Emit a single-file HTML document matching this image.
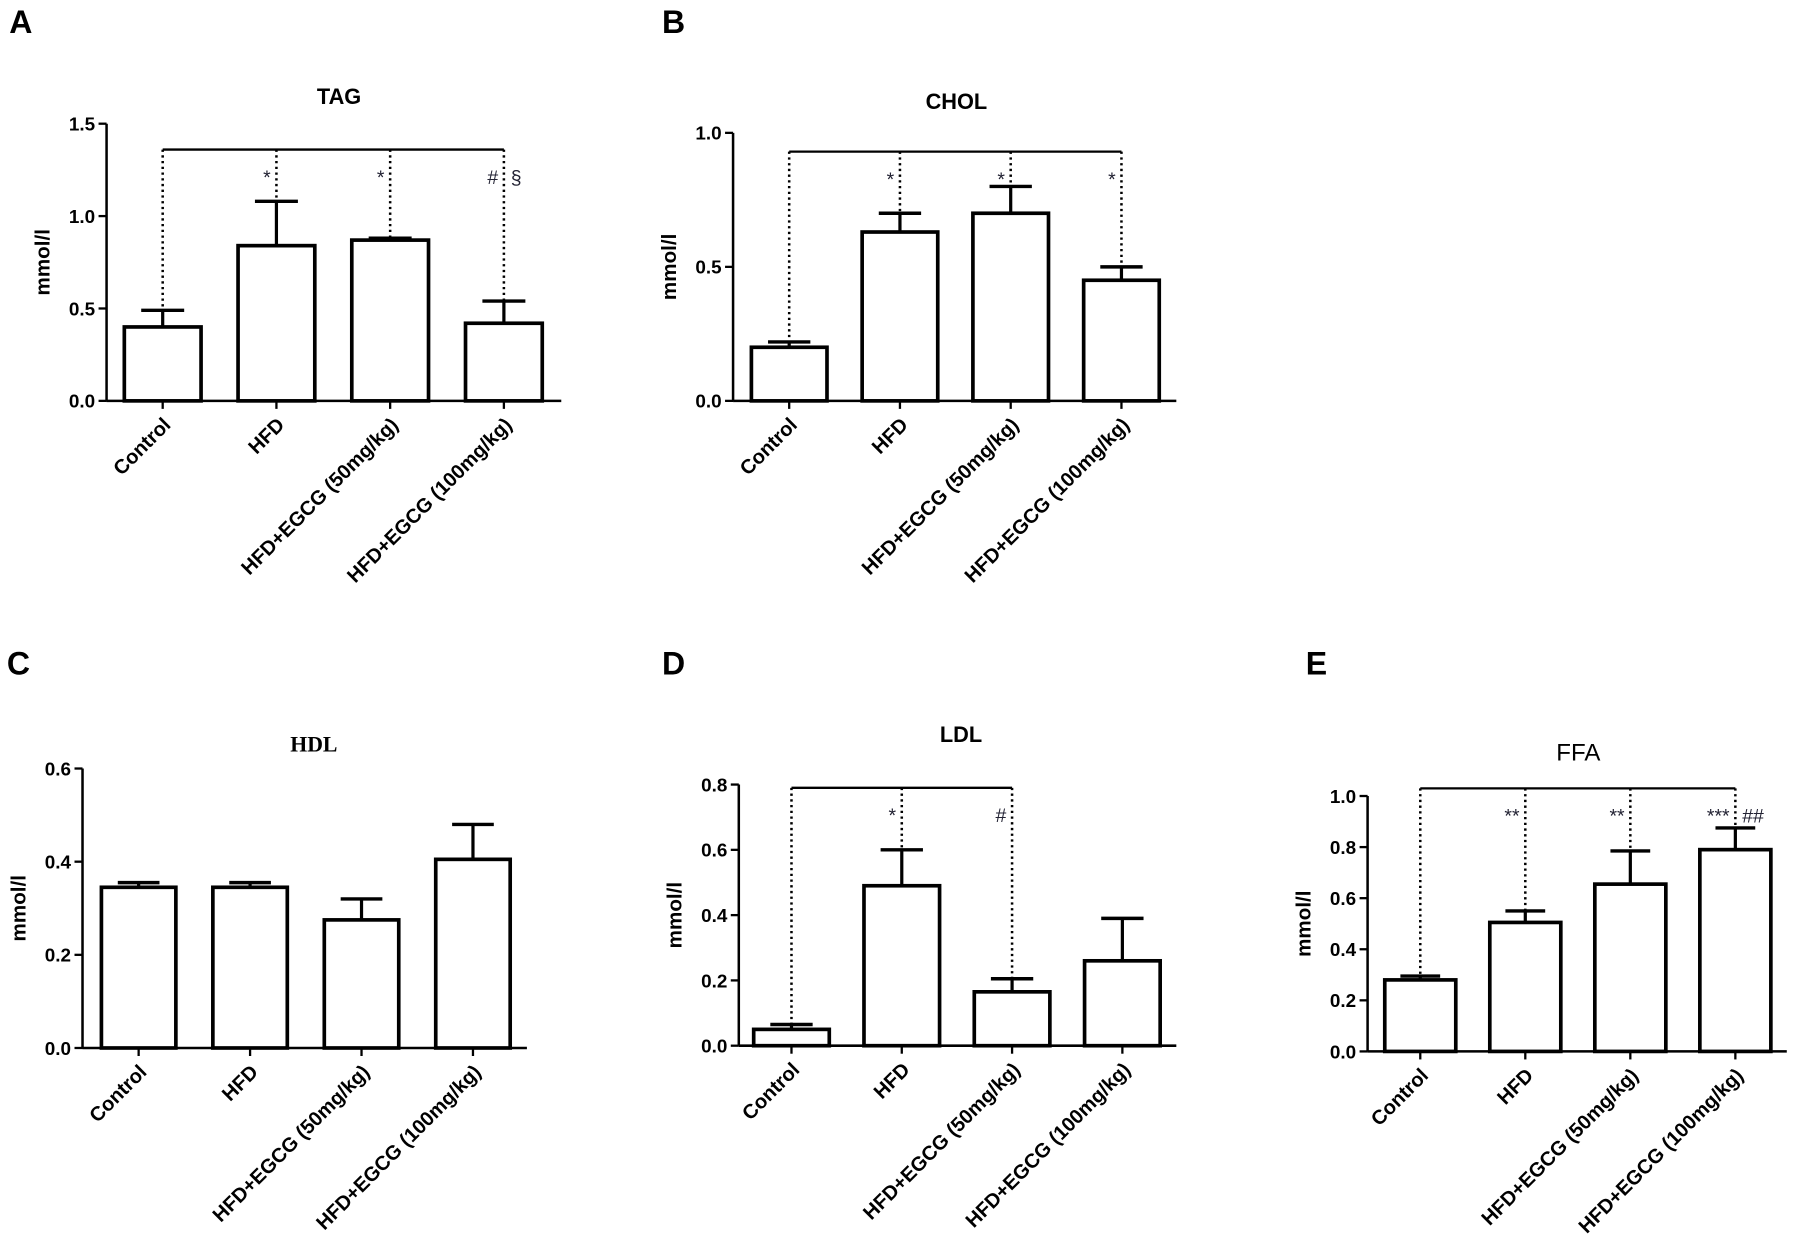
<!DOCTYPE html>
<html><head><meta charset="utf-8"><style>
html,body{margin:0;padding:0;background:#fff;}
svg{display:block;font-family:"Liberation Sans",Arial,sans-serif;}
</style></head><body>
<svg id="fig" width="1796" height="1253" viewBox="0 0 1568 1094" xmlns="http://www.w3.org/2000/svg">
<rect width="1568" height="1094" fill="#fff"/>
<text x="8" y="29" font-size="28" font-weight="bold">A</text>
<text x="578" y="29" font-size="28" font-weight="bold">B</text>
<text x="6" y="589" font-size="28" font-weight="bold">C</text>
<text x="578" y="589" font-size="28" font-weight="bold">D</text>
<text x="1140" y="589" font-size="28" font-weight="bold">E</text>
</svg>
<script>
const categories = ["Control","HFD","HFD+EGCG (50mg/kg)","HFD+EGCG (100mg/kg)"];
const tagValues = [0.40,0.84,0.87,0.42];
const tagErrors = [0.09,0.24,0.01,0.12];
const tagTicks = ["0.0","0.5","1.0","1.5"];
const cholValues = [0.20,0.63,0.70,0.45];
const cholErrors = [0.02,0.07,0.10,0.05];
const cholTicks = ["0.0","0.5","1.0"];
const hdlValues = [0.345,0.345,0.275,0.405];
const hdlErrors = [0.01,0.01,0.045,0.075];
const hdlTicks = ["0.0","0.2","0.4","0.6"];
const ldlValues = [0.05,0.49,0.165,0.26];
const ldlErrors = [0.015,0.11,0.04,0.13];
const ldlTicks = ["0.0","0.2","0.4","0.6","0.8"];
const ffaValues = [0.28,0.505,0.655,0.79];
const ffaErrors = [0.015,0.045,0.13,0.085];
const ffaTicks = ["0.0","0.2","0.4","0.6","0.8","1.0"];
const tagMarks = ["","*","*","# §"];
const cholMarks = ["","*","*","*"];
const ldlMarks = ["","*","#"];
const ffaMarks = ["","**","**","*** ##"];

const NS="http://www.w3.org/2000/svg";
const svg=document.getElementById('fig');
function mk(tag,attrs,parent){const e=document.createElementNS(NS,tag);for(const k in attrs)e.setAttribute(k,attrs[k]);(parent||svg).appendChild(e);return e;}

function panel(cfg){
  const g=mk('g',{});
  
  
  const ticks=cfg.ticks.map(Number);
  const ymax=ticks[ticks.length-1];
  const y=v=>cfg.y0-(v/ymax)*(cfg.y0-cfg.yTop);
  const x=i=>cfg.x0+cfg.first+i*cfg.step;
  const t=mk('text',{x:cfg.titleX,y:cfg.titleY,'font-size':cfg.titleSize||19,'font-weight':cfg.titleWeight||'bold','text-anchor':'middle','font-family':cfg.titleFont||'"Liberation Sans",Arial,sans-serif'},g);
  t.textContent=cfg.title;
  
  
  const ax=mk('line',{x1:cfg.x0,y1:cfg.yTop,x2:cfg.x0,y2:cfg.y0,stroke:'#000','stroke-width':2.2},g);
  
  
  const xa=mk('line',{x1:cfg.x0,y1:cfg.y0,x2:cfg.xEnd,y2:cfg.y0,stroke:'#000','stroke-width':2.2},g);
  
  
  cfg.ticks.forEach((lab,i)=>{
    const yy=y(ticks[i]);
    mk('line',{x1:cfg.x0-7,y1:yy,x2:cfg.x0,y2:yy,stroke:'#000','stroke-width':2},g);
    const tl=mk('text',{x:cfg.x0-10,y:yy+6,'font-size':16.5,'font-weight':'bold','text-anchor':'end'},g);
    tl.textContent=lab;
    
    
  });
  const yl=mk('text',{x:0,y:0,'font-size':18,'font-weight':'bold','text-anchor':'middle',transform:`translate(${cfg.x0-50},${(cfg.y0+cfg.yTop)/2}) rotate(-90)`},g);
  yl.textContent='mmol/l';
  
  
  categories.forEach((c,i)=>{
    const cx=x(i),v=cfg.values[i],e=cfg.errors[i];
    mk('line',{x1:cx,y1:y(v),x2:cx,y2:y(v+e),stroke:'#000','stroke-width':2.8},g);
    mk('line',{x1:cx-cfg.bw*0.28,y1:y(v+e),x2:cx+cfg.bw*0.28,y2:y(v+e),stroke:'#000','stroke-width':3},g);
    const b=mk('rect',{x:cx-cfg.bw/2,y:y(v),width:cfg.bw,height:cfg.y0-y(v),fill:'#fff',stroke:'#000','stroke-width':3.2},g);
    
    
    mk('line',{x1:cx,y1:cfg.y0,x2:cx,y2:cfg.y0+7,stroke:'#000','stroke-width':2},g);
    const xl=mk('text',{x:0,y:0,'font-size':17.5,'font-weight':'bold','text-anchor':'end',transform:`translate(${cx+8},${cfg.y0+22}) rotate(-45)`},g);
    xl.textContent=c;
    
    
  });
  if(cfg.marks){
    const n=cfg.marks.length;
    const by=y(cfg.bracket);
    const br=mk('line',{x1:x(0),y1:by,x2:x(n-1),y2:by,stroke:'#000','stroke-width':2},g);
    
    
    cfg.marks.forEach((m,i)=>{
      const cx=x(i);
      mk('line',{x1:cx,y1:by,x2:cx,y2:y(cfg.values[i]+cfg.errors[i]),stroke:'#000','stroke-width':2.2,'stroke-dasharray':'2,3'},g);
      if(m){
        const parts=m.split(' ');
        const s=mk('text',{x:cx-5,y:by+30,'font-size':17,'text-anchor':'end',fill:'#223'},g);
        s.textContent=parts[0];
        
        
        if(parts[1]){
          const s2=mk('text',{x:cx+6,y:by+30,'font-size':17,'text-anchor':'start',fill:'#223'},g);
          s2.textContent=parts[1];
          
          
        }
      }
    });
  }
}
panel({name:'tag',title:'TAG',titleX:296,titleY:91,x0:93,y0:350,yTop:108,xEnd:490,first:49,step:99.3,bw:67,values:tagValues,errors:tagErrors,ticks:tagTicks,marks:tagMarks,bracket:1.36});
panel({name:'chol',title:'CHOL',titleX:835,titleY:95,x0:640,y0:350,yTop:116,xEnd:1027,first:49,step:96.7,bw:66,values:cholValues,errors:cholErrors,ticks:cholTicks,marks:cholMarks,bracket:0.93});
panel({name:'hdl',title:'HDL',titleX:274,titleY:656,titleFont:'"Liberation Serif",serif',x0:72,y0:915,yTop:671,xEnd:460,first:49,step:97.3,bw:65,values:hdlValues,errors:hdlErrors,ticks:hdlTicks});
panel({name:'ldl',title:'LDL',titleX:839,titleY:648,x0:645,y0:913,yTop:685,xEnd:1027,first:46,step:96.3,bw:66,values:ldlValues,errors:ldlErrors,ticks:ldlTicks,marks:ldlMarks,bracket:0.79});
panel({name:'ffa',title:'FFA',titleX:1378,titleY:664,titleWeight:'normal',titleSize:21,x0:1194,y0:918,yTop:695,xEnd:1560,first:46,step:91.7,bw:62,values:ffaValues,errors:ffaErrors,ticks:ffaTicks,marks:ffaMarks,bracket:1.03});
</script>
</body></html>
